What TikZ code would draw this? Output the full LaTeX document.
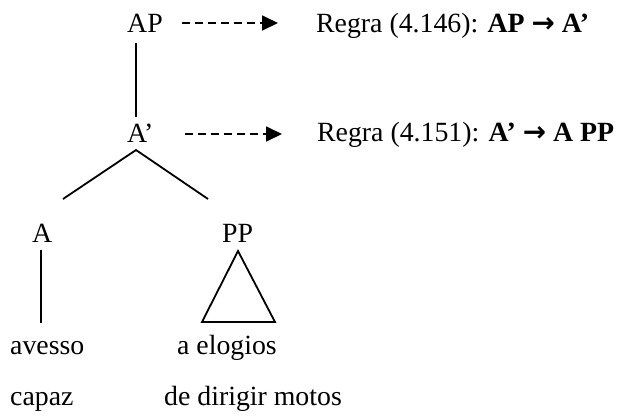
\documentclass[tikz,border=0pt]{standalone}
\usepackage{fontspec}
\setmainfont{Liberation Serif}
\newfontfamily\arrowfont{DejaVu Sans}
\usetikzlibrary{arrows.meta}
\newcommand{\rarr}{{\arrowfont\bfseries →}}
\tikzset{
  lbl/.style={inner sep=0pt, anchor=base west, font=\fontsize{27.8}{33}\selectfont},
  branch/.style={line width=1.8pt},
  ruleptr/.style={line width=1.8pt, dash pattern=on 8pt off 5pt, -{Triangle[length=16pt,width=15pt]}},
}
\begin{document}
\begin{tikzpicture}[x=1pt,y=-1pt]
\useasboundingbox (0,0) rectangle (623,416);
% labels
\node[lbl] (AP) at (127,32) {AP};
\node[lbl] (Abar) at (127,142) {A’};
\node[lbl] (A) at (32,242) {A};
\node[lbl] (PP) at (222,242) {PP};
\node[lbl] (w1) at (10,354) {avesso};
\node[lbl] (w2) at (177,354) {a elogios};
\node[lbl] (w3) at (10,405) {capaz};
\node[lbl] (w4) at (164,405) {de dirigir motos};
\node[lbl] (r1) at (316,32) {Regra (4.146): \textbf{AP \rarr\ A’}};
\node[lbl] (r2) at (317,141) {Regra (4.151): \textbf{A’ \rarr\ A PP}};
% line ends
\coordinate (apB) at (136,43);
\coordinate (abT) at (136,117);
\coordinate (abB) at (136,150);
\coordinate (lEnd) at (63,199);
\coordinate (rEnd) at (208,199);
\coordinate (aB) at (41,250);
\coordinate (aE) at (41,323);
\coordinate (triT) at (238,251);
\coordinate (triL) at (202,322);
\coordinate (triR) at (275,322);
\coordinate (d1s) at (182,23);
\coordinate (d1e) at (278,23);
\coordinate (d2s) at (185,134);
\coordinate (d2e) at (282,134);
% tree
\draw[branch] (apB) -- (abT);
\draw[branch] (lEnd) -- (abB) -- (rEnd);
\draw[branch] (aB) -- (aE);
\draw[branch, line join=miter] (triT) -- (triL) -- (triR) -- cycle;
% rule pointers
\draw[ruleptr] (d1s) -- (d1e);
\draw[ruleptr] (d2s) -- (d2e);
\end{tikzpicture}
\end{document}
